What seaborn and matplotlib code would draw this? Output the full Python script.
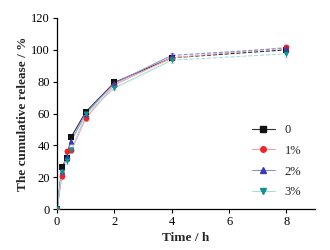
import numpy as np
import pandas as pd
import matplotlib
matplotlib.use('Agg')
import matplotlib.pyplot as plt
import seaborn as sns

# sampling times (h)
time = [0, 0.17, 0.33, 0.5, 1, 2, 4, 8]

# cumulative release (%) per formulation
rel_0 = [0, 26.5, 32, 45.5, 61, 79.5, 95, 100]
rel_1 = [0, 21, 36.5, 37, 57, 78, 95, 101.5]
rel_2 = [0, 24, 33, 43, 60, 79, 96.5, 101]
rel_3 = [0, 23.5, 30, 37, 59.5, 76, 93.5, 97.5]

# rough error bars
err_0 = [0, 1.5, 2, 1.5, 1.5, 1.5, 1.5, 1.5]
err_1 = [0, 2, 1.5, 2, 1.5, 1.5, 1.5, 1.5]
err_2 = [0, 2, 2, 2, 2, 1.5, 1.5, 1.5]
err_3 = [0, 2, 2, 2, 2, 1.5, 1.5, 2]

labels = ['0', '1%', '2%', '3%']


def main():
    sns.set_style('ticks')
    plt.rcParams['font.family'] = ['Liberation Serif', 'DejaVu Serif']

    series = [rel_0, rel_1, rel_2, rel_3]
    errors = [err_0, err_1, err_2, err_3]
    markers = ['s', 'o', '^', 'v']
    mcolors = ['#111111', '#e8262c', '#3a3ca8', '#14908e']
    lcolors = ['#333333', '#f2a0a0', '#8a90d8', '#a8dcdc']

    rows = []
    for lab, vals in zip(labels, series):
        for t, v in zip(time, vals):
            rows.append({'time': t, 'release': v, 'group': lab})
    df = pd.DataFrame(rows)

    fig = plt.figure(figsize=(3.3, 2.5), dpi=100)
    ax = fig.add_axes([0.173, 0.164, 0.782, 0.764])

    for i, lab in enumerate(labels):
        sub = df[df.group == lab]
        early = sub[sub.time <= 4]
        late = sub[sub.time >= 4]
        sns.lineplot(data=late, x='time', y='release', ax=ax, color=lcolors[i],
                     lw=0.8, linestyle='--', legend=False)
        ax.errorbar(sub.time, sub.release, yerr=errors[i], fmt='none',
                    ecolor=lcolors[i], elinewidth=0.6, capsize=1.5, capthick=0.6)
        sns.lineplot(data=early, x='time', y='release', ax=ax, color=lcolors[i],
                     lw=0.8, legend=False)
        sns.scatterplot(data=sub, x='time', y='release', ax=ax, marker=markers[i],
                        color=mcolors[i], s=18, linewidth=0, zorder=5,
                        legend=False)
        ax.plot([], [], color=lcolors[i], lw=0.8, marker=markers[i],
                mfc=mcolors[i], mec=mcolors[i], ms=4, label=lab)

    ax.set_xlim(0, 9)
    ax.set_ylim(0, 120)
    ax.set_xticks([0, 2, 4, 6, 8])
    ax.set_yticks([0, 20, 40, 60, 80, 100, 120])
    ax.tick_params(labelsize=9, length=3, width=0.8, pad=2, colors='black')
    for sp in ['left', 'bottom']:
        ax.spines[sp].set_linewidth(0.9)
        ax.spines[sp].set_color('black')
    sns.despine(ax=ax)

    ax.set_xlabel('Time / h', fontsize=9.5, fontweight='bold', labelpad=3)
    ax.set_ylabel('The cumulative release / %', fontsize=9.5, fontweight='bold',
                  labelpad=2)

    ax.legend(loc='lower right', bbox_to_anchor=(0.98, 0.01), frameon=False,
              fontsize=9, handlelength=1.8, labelspacing=0.7, borderpad=0.2)

    fig.savefig('out.png', dpi=100)


if __name__ == '__main__':
    main()
